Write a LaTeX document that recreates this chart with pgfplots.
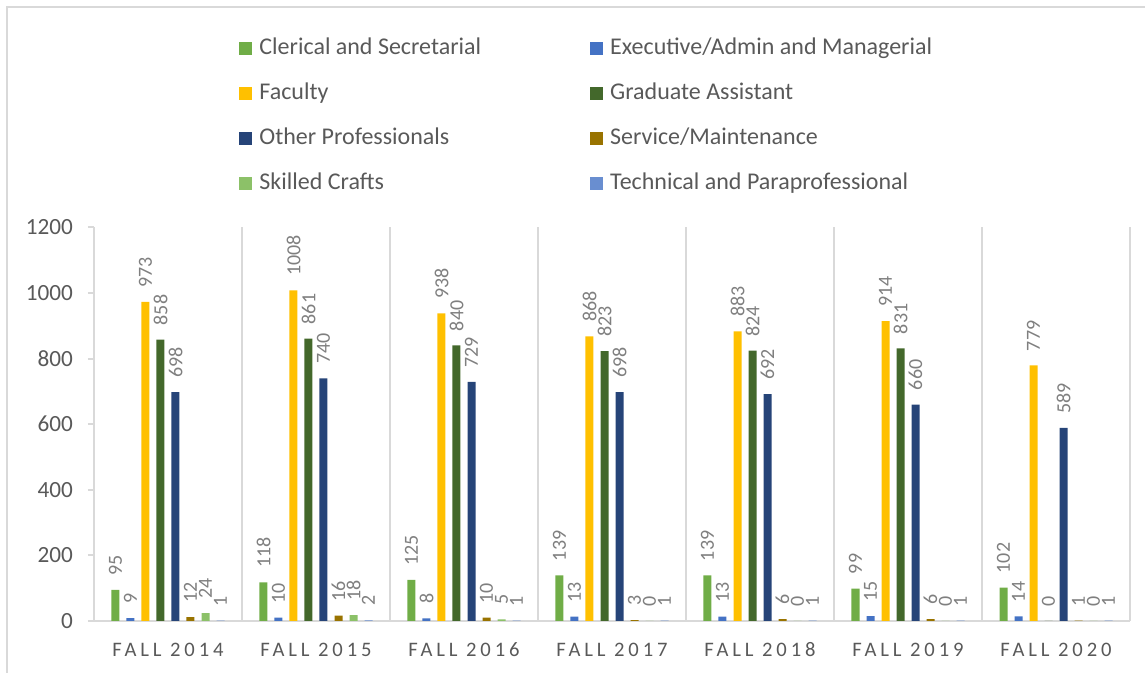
\documentclass[border=0pt]{standalone}
\usepackage{fontspec}
\setmainfont{Carlito}
\newfontfamily\spacedfont[LetterSpace=19]{Carlito}
\usepackage{pgfplots}
\pgfplotsset{compat=1.18}
\definecolor{cCler}{HTML}{70AD47}
\definecolor{cExec}{HTML}{4472C4}
\definecolor{cFac}{HTML}{FFC000}
\definecolor{cGrad}{HTML}{43682B}
\definecolor{cOther}{HTML}{264478}
\definecolor{cServ}{HTML}{997300}
\definecolor{cSkill}{HTML}{8CC168}
\definecolor{cTech}{HTML}{698ED0}
\definecolor{leggray}{HTML}{595959}
\definecolor{lblgray}{HTML}{7F7F7F}
\definecolor{gridgray}{HTML}{D9D9D9}
\begin{document}
\begin{tikzpicture}
\begin{axis}[
  scale only axis, width=518pt, height=196.8pt,
  ymin=0, ymax=1200, xmin=-0.5, xmax=6.5,
  ybar=3.5pt, bar width=4pt,
  axis x line*=bottom, axis y line*=left,
  x axis line style={gridgray, line width=1.2pt},
  y axis line style={gridgray, line width=1pt},
  ytick={0,200,...,1200},
  tick align=outside, major tick length=3pt,
  ytick style={gridgray, line width=1pt},
  xtick={0,...,6},
  xticklabels={FALL 2014,FALL 2015,FALL 2016,FALL 2017,FALL 2018,FALL 2019,FALL 2020},
  xtick style={draw=none},
  minor xtick={-0.5,0.5,...,6.5},
  xminorgrids=true,
  minor x grid style={gridgray, line width=1pt},
  minor x tick style={draw=none},
  /pgf/number format/assume math mode=true,
  /pgf/number format/1000 sep={},
  yticklabel style={font=\fontsize{11.6}{14}\selectfont, text=leggray, xshift=-4pt},
  xticklabel style={font=\fontsize{10.3}{12}\selectfont\spacedfont, text=leggray, yshift=-4pt, text height=7pt, text depth=0pt},
  nodes near coords,
  every node near coord/.append style={rotate=90, anchor=west, font=\fontsize{10}{12}\selectfont, text=lblgray, inner xsep=7pt, inner ysep=0pt},
  legend columns=2,
  legend cell align=left,
  legend image code/.code={\fill[#1] (0pt,-3.25pt) rectangle (6.5pt,3.25pt);},
  legend style={at={(rel axis cs:0.140,1.487)}, anchor=north west, draw=none, fill=none,
    inner sep=0pt, font=\fontsize{12}{14.4}\selectfont, text=leggray,
    row sep=10.5pt, column sep=0pt,
    nodes={inner xsep=3.5pt, inner ysep=0pt, text height=9pt, text depth=3pt},
    /tikz/column 2/.style={column sep=51pt}},
]
\addplot[fill=cCler, draw=none] coordinates {(0,95)(1,118)(2,125)(3,139)(4,139)(5,99)(6,102)};
\addplot[fill=cExec, draw=none] coordinates {(0,9)(1,10)(2,8)(3,13)(4,13)(5,15)(6,14)};
\addplot[fill=cFac, draw=none] coordinates {(0,973)(1,1008)(2,938)(3,868)(4,883)(5,914)(6,779)};
\addplot[fill=cGrad, draw=none] coordinates {(0,858)(1,861)(2,840)(3,823)(4,824)(5,831)(6,0)};
\addplot[fill=cOther, draw=none] coordinates {(0,698)(1,740)(2,729)(3,698)(4,692)(5,660)(6,589)};
\addplot[fill=cServ, draw=none] coordinates {(0,12)(1,16)(2,10)(3,3)(4,6)(5,6)(6,1)};
\addplot[fill=cSkill, draw=none] coordinates {(0,24)(1,18)(2,5)(3,0)(4,0)(5,0)(6,0)};
\addplot[fill=cTech, draw=none] coordinates {(0,1)(1,2)(2,1)(3,1)(4,1)(5,1)(6,1)};
\legend{Clerical and Secretarial,Executive/Admin and Managerial,Faculty,Graduate Assistant,Other Professionals,Service/Maintenance,Skilled Crafts,Technical and Paraprofessional}
\end{axis}
\draw[gridgray, line width=1pt] (-43.5pt,-40pt) |- (540pt,307pt);
\pgfresetboundingbox
\path[use as bounding box] (-47pt,-26pt) rectangle (525.5pt,310.5pt);
\end{tikzpicture}
\end{document}
